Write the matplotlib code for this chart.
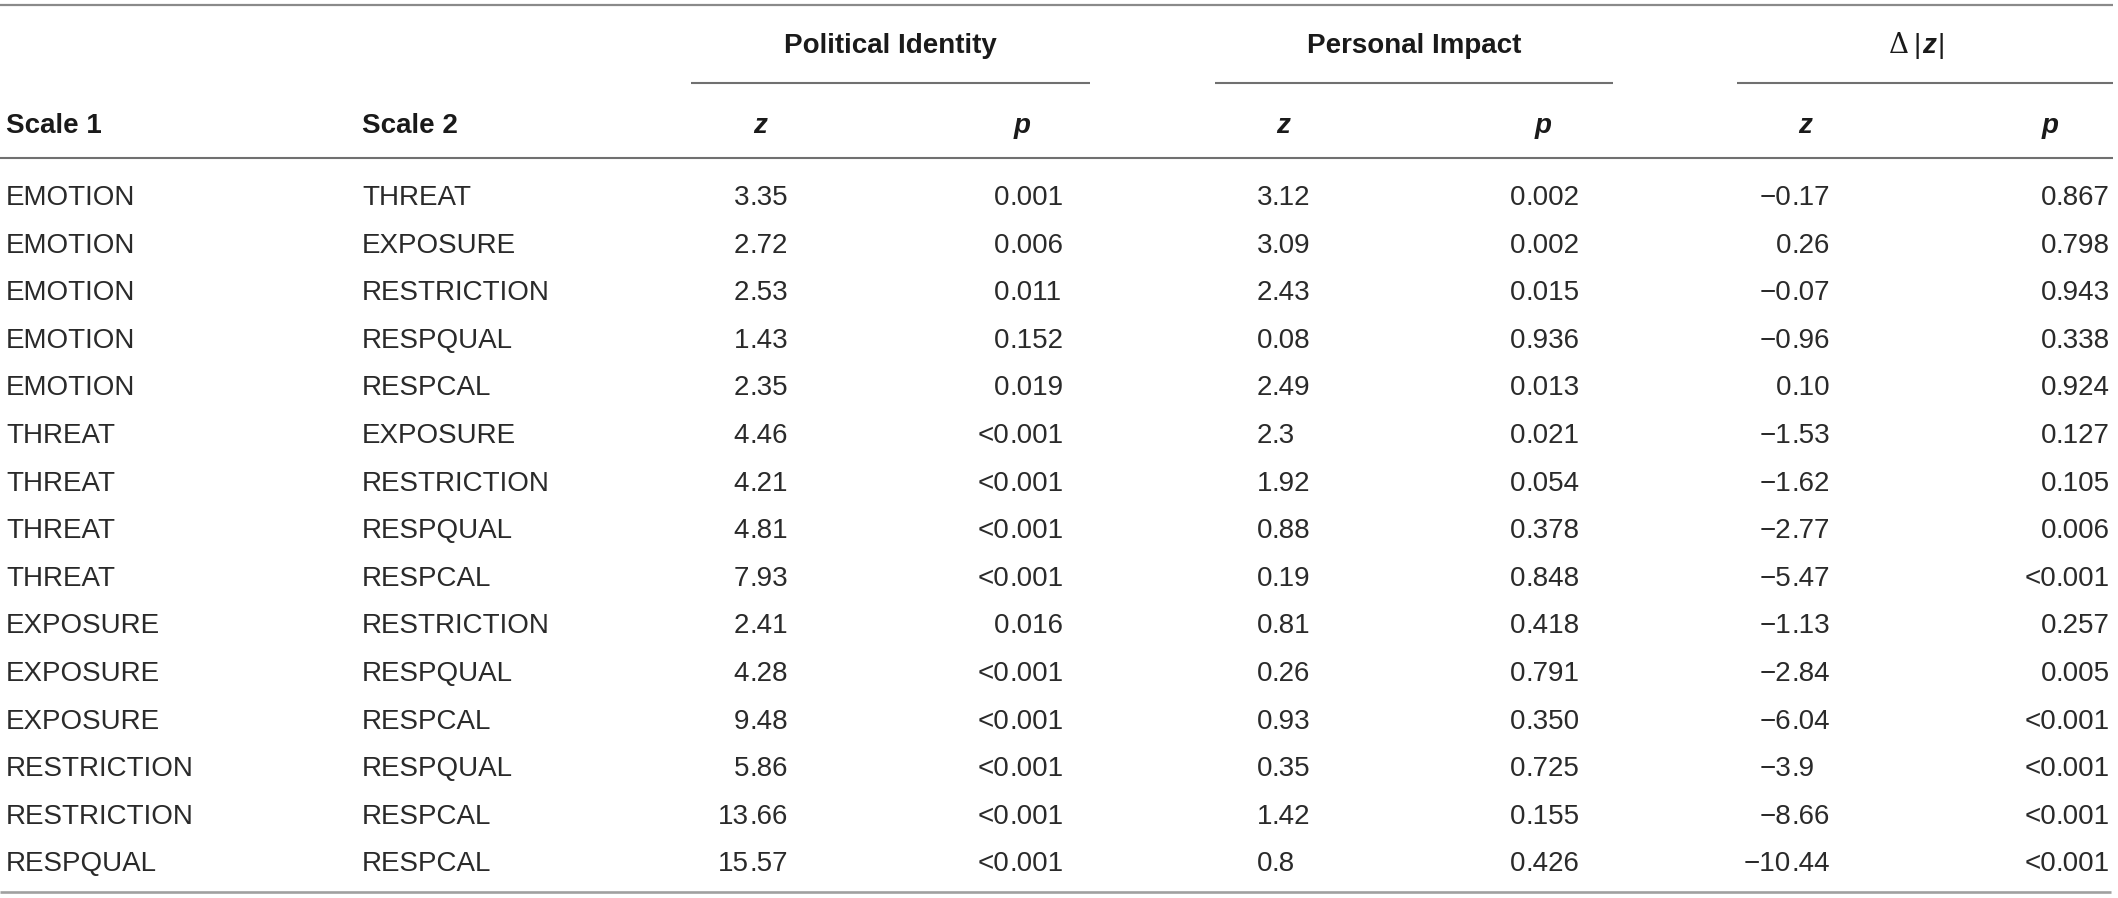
import matplotlib
matplotlib.use("Agg")
import matplotlib.pyplot as plt

plt.rcParams['font.family'] = ['Liberation Sans', 'DejaVu Sans']

scale1 = ["EMOTION", "EMOTION", "EMOTION", "EMOTION", "EMOTION",
          "THREAT", "THREAT", "THREAT", "THREAT",
          "EXPOSURE", "EXPOSURE", "EXPOSURE",
          "RESTRICTION", "RESTRICTION", "RESPQUAL"]
scale2 = ["THREAT", "EXPOSURE", "RESTRICTION", "RESPQUAL", "RESPCAL",
          "EXPOSURE", "RESTRICTION", "RESPQUAL", "RESPCAL",
          "RESTRICTION", "RESPQUAL", "RESPCAL",
          "RESPQUAL", "RESPCAL", "RESPCAL"]
pol_z = ["3.35", "2.72", "2.53", "1.43", "2.35", "4.46", "4.21", "4.81",
         "7.93", "2.41", "4.28", "9.48", "5.86", "13.66", "15.57"]
pol_p = ["0.001", "0.006", "0.011", "0.152", "0.019", "<0.001", "<0.001",
         "<0.001", "<0.001", "0.016", "<0.001", "<0.001", "<0.001",
         "<0.001", "<0.001"]
per_z = ["3.12", "3.09", "2.43", "0.08", "2.49", "2.3", "1.92", "0.88",
         "0.19", "0.81", "0.26", "0.93", "0.35", "1.42", "0.8"]
per_p = ["0.002", "0.002", "0.015", "0.936", "0.013", "0.021", "0.054",
         "0.378", "0.848", "0.418", "0.791", "0.350", "0.725", "0.155",
         "0.426"]
dz = ["\u22120.17", "0.26", "\u22120.07", "\u22120.96", "0.10", "\u22121.53",
      "\u22121.62", "\u22122.77", "\u22125.47", "\u22121.13", "\u22122.84",
      "\u22126.04", "\u22123.9", "\u22128.66", "\u221210.44"]
dp = ["0.867", "0.798", "0.943", "0.338", "0.924", "0.127", "0.105",
      "0.006", "<0.001", "0.257", "0.005", "<0.001", "<0.001", "<0.001",
      "<0.001"]

groups = ["Political Identity", "Personal Impact", None]
sub_labels = ["z", "p", "z", "p", "z", "p"]

W, H = 2118, 898
fig = plt.figure(figsize=(W / 100, H / 100), dpi=100)
ax = fig.add_axes([0, 0, 1, 1])
ax.set_xlim(0, W)
ax.set_ylim(H, 0)
ax.axis('off')

FS = 20
TXT = '#2a2a2a'
HDR = '#1a1a1a'
LINE = '#707070'
LW = 1.5

# rules
ax.plot([0, 2113], [5, 5], color='#8a8a8a', lw=1.6, solid_capstyle='butt')
ax.plot([0, 2113], [158, 158], color=LINE, lw=LW, solid_capstyle='butt')
ax.plot([0, 2111], [892, 892], color='#a0a0a0', lw=1.9, solid_capstyle='butt')
spans = [(691, 1090), (1215, 1613), (1737, 2113)]
for x0, x1 in spans:
    ax.plot([x0, x1], [83, 83], color=LINE, lw=LW, solid_capstyle='butt')

# group headers
for (x0, x1), g in zip(spans, groups):
    cx = (x0 + x1) / 2
    if g is not None:
        ax.text(cx, 53, g, ha='center', va='baseline', fontsize=FS,
                fontweight='bold', color=HDR)
    else:
        ax.text(cx - 16, 53, "\u0394", ha='right', va='baseline', fontsize=FS,
                color=HDR, family=['DejaVu Serif'])
        ax.text(cx - 8, 53, "|", ha='center', va='baseline', fontsize=FS,
                color=HDR)
        ax.text(cx + 4, 53, "z", ha='center', va='baseline', fontsize=FS,
                color=HDR, fontweight='bold', fontstyle='italic')
        ax.text(cx + 16, 53, "|", ha='center', va='baseline', fontsize=FS,
                color=HDR)

# column headers
ax.text(6, 133, "Scale 1", ha='left', va='baseline', fontsize=FS,
        fontweight='bold', color=HDR)
ax.text(362, 133, "Scale 2", ha='left', va='baseline', fontsize=FS,
        fontweight='bold', color=HDR)
hdr_x = [760, 1022, 1283, 1543, 1805, 2050]
for x, lab in zip(hdr_x, sub_labels):
    ax.text(x, 133, lab, ha='center', va='baseline', fontsize=FS,
            fontweight='bold', fontstyle='italic', color=HDR)

# body
dec_x = [749, 1009, 1272, 1525, 1791, 2056]
cols = [pol_z, pol_p, per_z, per_p, dz, dp]
y0, dy = 205, 47.6


def dec_text(x, y, s):
    i = s.index('.')
    ax.text(x, y, s[:i], ha='right', va='baseline', fontsize=FS, color=TXT)
    ax.text(x, y, s[i:], ha='left', va='baseline', fontsize=FS, color=TXT)


for r in range(len(scale1)):
    y = y0 + r * dy
    ax.text(6, y, scale1[r], ha='left', va='baseline', fontsize=FS, color=TXT)
    ax.text(362, y, scale2[r], ha='left', va='baseline', fontsize=FS, color=TXT)
    for x, col in zip(dec_x, cols):
        dec_text(x, y, col[r])

fig.savefig("out.png", dpi=100, facecolor='white')
